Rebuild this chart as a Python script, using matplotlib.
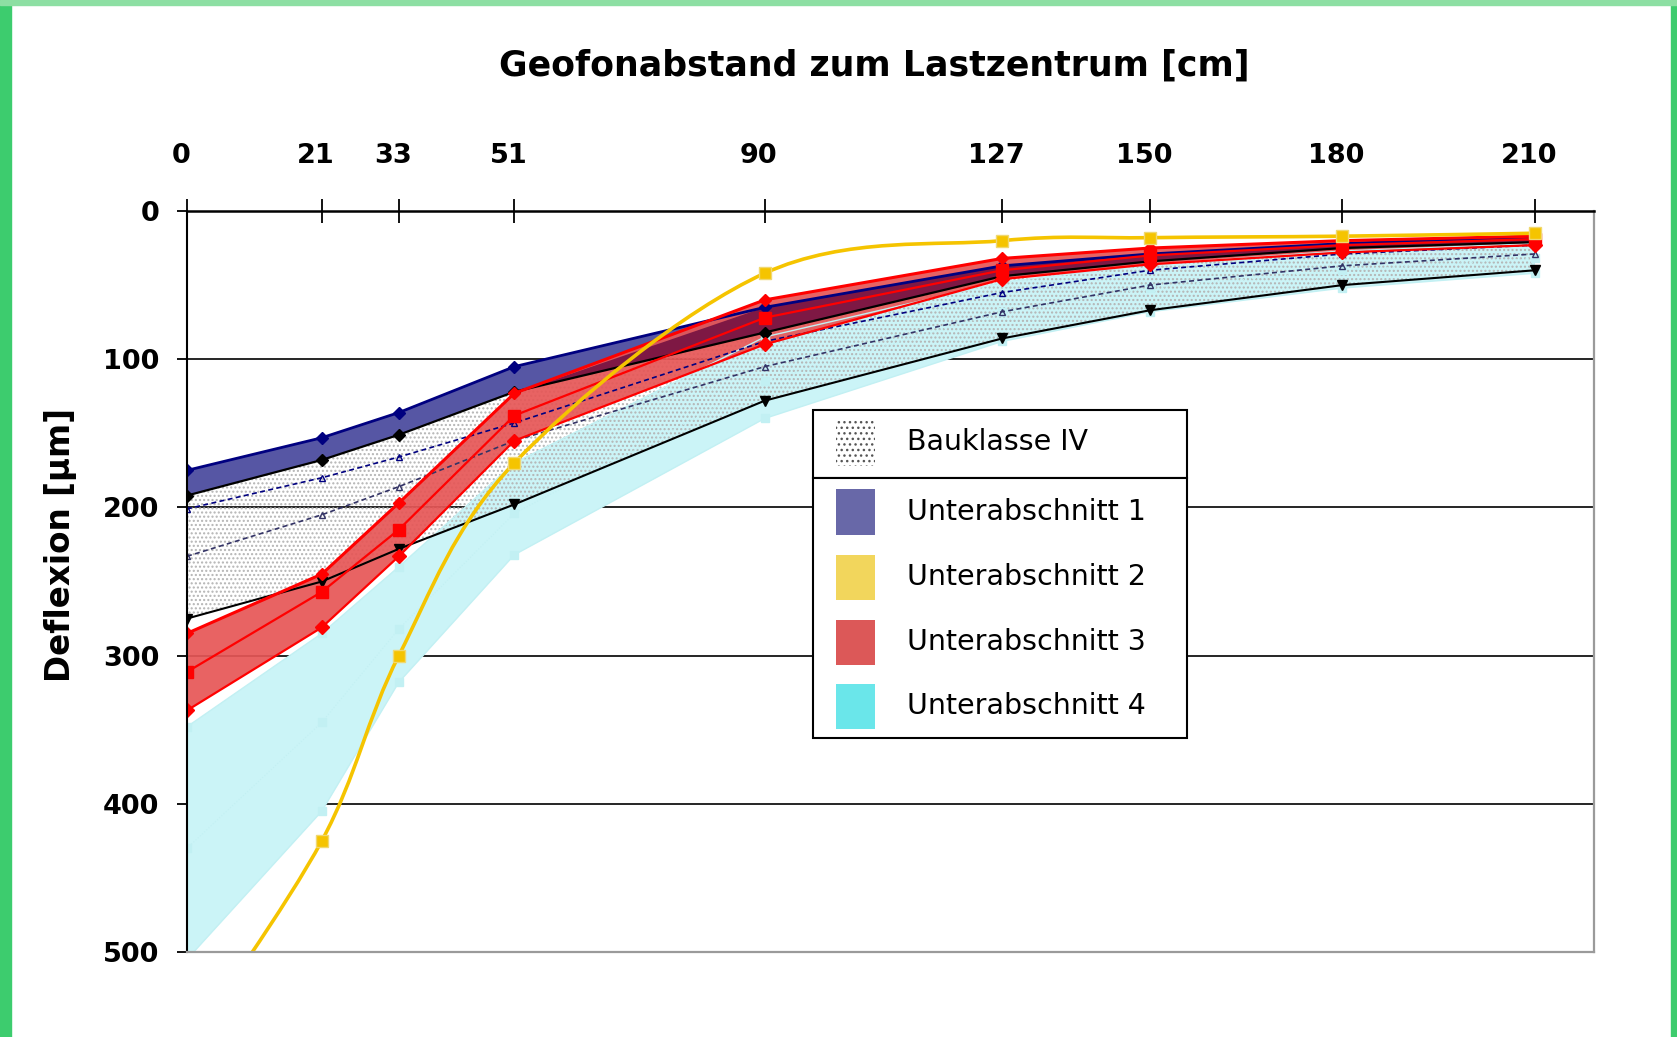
import numpy as np
import matplotlib
matplotlib.use("Agg")
import matplotlib.pyplot as plt
from matplotlib.patches import Rectangle, PathPatch
from matplotlib.path import Path
from matplotlib.transforms import ScaledTranslation

W, H = 1677, 1037

# Geophone positions (cm) and deflections (µm)
distance_cm = [0, 21, 33, 51, 90, 127, 150, 180, 210]
x_tick_labels = ["0", "21", "33", "51", "90", "127", "150", "180", "210"]
y_ticks = [0, 100, 200, 300, 400, 500]

# Bauklasse IV envelope with two inner reference curves
bk_upper = [192, 168, 151, 122, 82, 45, 34, 25, 21]
bk_lower = [275, 250, 228, 198, 128, 86, 67, 50, 40]
bk_line_a = [201, 180, 166, 143, 88, 55, 40, 29, 23]
bk_line_b = [233, 205, 186, 155, 105, 68, 50, 37, 29]

# Unterabschnitt 1 (min / max)
ua1_min = [175, 153, 136, 105, 65, 37, 29, 22, 17]
ua1_max = [192, 168, 151, 122, 82, 44, 34, 25, 21]

# Unterabschnitt 2
ua2 = [565, 425, 300, 170, 42, 20, 18, 17, 15]

# Unterabschnitt 3 (min / mean / max)
ua3_min = [285, 245, 197, 123, 60, 32, 25, 20, 17]
ua3_mid = [311, 257, 215, 138, 72, 40, 30, 23, 19]
ua3_max = [337, 281, 233, 155, 90, 46, 36, 28, 23]

# Unterabschnitt 4 (min / mean / max)
ua4_min = [348, 285, 240, 170, 85, 48, 36, 27, 22]
ua4_mid = [430, 345, 282, 204, 115, 68, 52, 40, 32]
ua4_max = [505, 405, 318, 232, 140, 88, 68, 52, 42]

legend_labels = ["Bauklasse IV", "Unterabschnitt 1", "Unterabschnitt 2",
                 "Unterabschnitt 3", "Unterabschnitt 4"]

NAVY = "#000080"
RED = "#ff0000"
GOLD = "#f5c400"
NAVY_FILL = "#5656a4"
RED_FILL = "#e65656"
OVERLAP_FILL = "#7e1844"
CYAN_FILL = "#cbf4f7"
CYAN_LINE = "#c2f0f3"

plt.rcParams["font.family"] = ["DejaVu Sans"]

fig = plt.figure(figsize=(W / 100, H / 100), dpi=100)
fig.patch.set_facecolor("white")


def fx(px):
    return px / W


def fy(py):
    return 1 - py / H


# green frame
fig.patches.append(Rectangle((0, 0), fx(11), 1, transform=fig.transFigure,
                             color="#3dcc6e", zorder=0))
fig.patches.append(Rectangle((fx(1671), 0), fx(6), 1, transform=fig.transFigure,
                             color="#3dcc6e", zorder=0))
fig.patches.append(Rectangle((0, fy(5)), 1, 5 / H, transform=fig.transFigure,
                             color="#8ddfa3", zorder=0))

ax = fig.add_axes([fx(187), fy(952), fx(1594) - fx(187), fy(211) - fy(952)])
ax.set_xlim(0, 219.2)
ax.set_ylim(500, 0)
ax.set_facecolor("white")

x = np.array(distance_cm, dtype=float)

# bands
ax.fill_between(x, ua4_min, ua4_max, facecolor=CYAN_FILL, edgecolor="none",
                zorder=1)
ax.fill_between(x, bk_upper, bk_lower, facecolor="none", edgecolor="#b4b4b4",
                hatch="....", linewidth=0, zorder=1.5)
ax.fill_between(x, ua1_min, ua1_max, facecolor=NAVY_FILL, edgecolor="none",
                zorder=2)
ax.fill_between(x, ua3_min, ua3_max, facecolor=RED_FILL, alpha=0.92,
                edgecolor="none", zorder=2.5)
# where sections 1 and 3 overlap the two patterns mix to a dark maroon
ov_top = np.maximum(ua1_min, ua3_min)
ov_bot = np.minimum(ua1_max, ua3_max)
ax.fill_between(x, ov_top, ov_bot, where=ov_bot > ov_top, interpolate=True,
                facecolor=OVERLAP_FILL, edgecolor="none", zorder=2.6)

# grid lines
for yv in y_ticks[1:-1]:
    ax.axhline(yv, color="black", lw=1.2, zorder=0.5)

# envelope curves
ax.plot(x, ua4_min, color=CYAN_LINE, lw=1.0, marker="s", ms=6, zorder=3)
ax.plot(x, ua4_mid, color=CYAN_LINE, lw=0.8, ls=":", marker="s", ms=6, zorder=3)
ax.plot(x, ua4_max, color=CYAN_LINE, lw=1.0, marker="s", ms=6, zorder=3)

ax.plot(x, bk_line_a, color=NAVY, lw=1.2, ls=(0, (3, 2)), marker="^", ms=4,
        mfc="none", zorder=3.2)
ax.plot(x, bk_line_b, color="#333366", lw=1.2, ls=(0, (3, 2)), marker="^", ms=4,
        mfc="none", zorder=3.2)
ax.plot(x, bk_lower, color="black", lw=1.5, marker="v", ms=7, zorder=3.3)

ax.plot(x, ua1_max, color="black", lw=1.6, marker="D", ms=6, zorder=3.4)
ax.plot(x, ua1_min, color=NAVY, lw=2.0, marker="D", ms=6, zorder=3.4)

ax.plot(x, ua3_max, color=RED, lw=1.6, marker="D", ms=7, zorder=3.5)
ax.plot(x, ua3_mid, color=RED, lw=1.6, marker="s", ms=8, zorder=3.5)
ax.plot(x, ua3_min, color=RED, lw=2.2, marker="D", ms=6, zorder=3.5)


def smooth_path(xs, ys):
    pts = np.column_stack([xs, ys]).astype(float)
    n = len(pts)
    verts = [pts[0]]
    codes = [Path.MOVETO]
    for i in range(n - 1):
        p0 = pts[i - 1] if i > 0 else pts[i]
        p1, p2 = pts[i], pts[i + 1]
        p3 = pts[i + 2] if i + 2 < n else pts[i + 1]
        verts += [p1 + (p2 - p0) / 6, p2 - (p3 - p1) / 6, p2]
        codes += [Path.CURVE4] * 3
    return Path(verts, codes)


ax.add_patch(PathPatch(smooth_path(x, ua2), facecolor="none", edgecolor=GOLD,
                       lw=2.6, zorder=4))
ax.plot(x, ua2, ls="none", marker="s", ms=9, color=GOLD, mec="#f0d870",
        zorder=4.1)

# axes styling
for side in ["bottom", "right"]:
    ax.spines[side].set_color("#9a9a9a")
    ax.spines[side].set_linewidth(1.6)
ax.spines["top"].set_color("black")
ax.spines["top"].set_linewidth(1.8)
ax.spines["left"].set_color("black")
ax.spines["left"].set_linewidth(1.5)
for s in ax.spines.values():
    s.set_zorder(5)

ax.xaxis.tick_top()
ax.set_xticks(distance_cm, x_tick_labels)
ax.tick_params(axis="x", which="major", direction="inout", length=17, width=1.3,
               pad=22, labelsize=19.5, color="black")
shift = ScaledTranslation(-6 / 100, 0, fig.dpi_scale_trans)
for lbl in ax.get_xticklabels():
    lbl.set_fontweight("bold")
    lbl.set_transform(lbl.get_transform() + shift)

ax.set_yticks(y_ticks, [str(v) for v in y_ticks])
ax.tick_params(axis="y", direction="out", length=7, width=1.3, pad=13,
               labelsize=19.5)
for lbl in ax.get_yticklabels():
    lbl.set_fontweight("bold")

ax.set_ylabel("Deflexion [µm]", fontsize=23.5, fontweight="bold")
ax.yaxis.set_label_coords((77 - 187) / 1407, 1 - (545 - 211) / 741)

fig.text(fx(874), fy(66), "Geofonabstand zum Lastzentrum [cm]", ha="center",
         va="center", fontsize=25, fontweight="bold")

# legend boxes
tf = fig.transFigure
box_l, box_r = 813, 1187
fig.patches.append(Rectangle((fx(box_l), fy(478)), fx(box_r - box_l), 68 / H,
                             transform=tf, facecolor="white", edgecolor="black",
                             lw=1.5, zorder=10))
fig.patches.append(Rectangle((fx(box_l), fy(738)), fx(box_r - box_l), 260 / H,
                             transform=tf, facecolor="white", edgecolor="black",
                             lw=1.5, zorder=10))

handle_l, handle_w, handle_h = 836, 39, 45
fig.patches.append(Rectangle((fx(handle_l), fy(466)), fx(handle_w), 46 / H,
                             transform=tf, facecolor="white", edgecolor="#555555",
                             hatch="...", lw=0, zorder=11))
fig.text(fx(907), fy(442), legend_labels[0], ha="left", va="center",
         fontsize=20.5, zorder=12)

legend_colors = ["#6868a8", "#f2d65c", "#dc5858", "#6ae6ea"]
row_centers = [512, 577, 642, 706]
for lab, col, yc in zip(legend_labels[1:], legend_colors, row_centers):
    fig.patches.append(Rectangle((fx(handle_l), fy(yc + handle_h / 2)),
                                 fx(handle_w), handle_h / H, transform=tf,
                                 facecolor=col, edgecolor="none", zorder=11))
    fig.text(fx(907), fy(yc), lab, ha="left", va="center", fontsize=20.5,
             zorder=12)

fig.savefig("out.png", dpi=100, facecolor=fig.get_facecolor())
